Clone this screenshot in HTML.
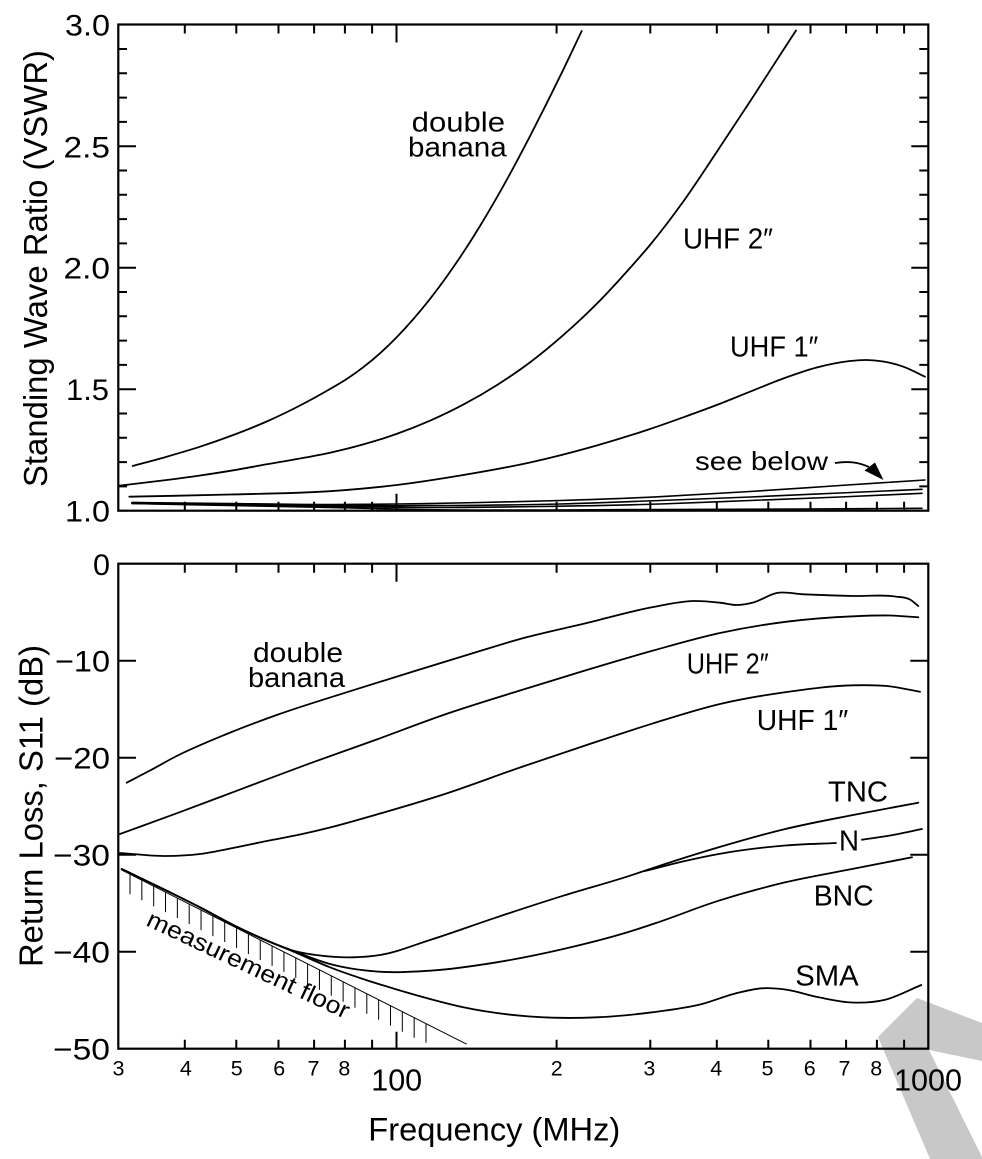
<!DOCTYPE html>
<html>
<head>
<meta charset="utf-8">
<style>
  html,body{margin:0;padding:0;background:#fff;}
  svg{display:block;}
  text{font-family:"Liberation Sans", Arial, sans-serif; fill:#000;}
</style>
</head>
<body>
<svg id="chart" width="982" height="1159" viewBox="0 0 982 1159" xmlns="http://www.w3.org/2000/svg">
  <rect x="0" y="0" width="982" height="1159" fill="#fff"/>

  <!-- gray decorative chevron -->
  <polygon points="878,1037 917,998 982,1023 982,1061 929,1050 982,1157 982,1159 930,1159" fill="#c8c8c8"/>

  <!-- ============ TOP PLOT ============ -->
  <rect x="118.3" y="24.5" width="810" height="486.2" fill="none" stroke="#000" stroke-width="2.2"/>

  <path stroke="#000" stroke-width="2" fill="none" d="
    M118,146.2h18 M118,267.7h18 M118,389.2h18
    M118,486.4h9 M118,462.1h9 M118,437.8h9 M118,413.5h9 M118,364.9h9 M118,340.6h9 M118,316.3h9 M118,292h9
    M118,243.4h9 M118,219.1h9 M118,194.8h9 M118,170.5h9 M118,121.9h9 M118,97.6h9 M118,73.3h9 M118,49h9
    M928.3,146.2h-17 M928.3,267.7h-17 M928.3,389.2h-17
    M928.3,486.4h-9 M928.3,462.1h-9 M928.3,437.8h-9 M928.3,413.5h-9 M928.3,364.9h-9 M928.3,340.6h-9 M928.3,316.3h-9 M928.3,292h-9
    M928.3,243.4h-9 M928.3,219.1h-9 M928.3,194.8h-9 M928.3,170.5h-9 M928.3,121.9h-9 M928.3,97.6h-9 M928.3,73.3h-9 M928.3,49h-9
  "/>
  <path stroke="#000" stroke-width="2" fill="none" d="
    M184.8,24.5v9 M236.3,24.5v9 M278.5,24.5v9 M314.1,24.5v9 M344.9,24.5v9 M372.1,24.5v9 M396.5,24.5v18
    M556.6,24.5v9 M650.3,24.5v9 M716.8,24.5v9 M768.3,24.5v9 M810.5,24.5v9 M846.1,24.5v9 M876.9,24.5v9 M904.1,24.5v9
    M184.8,510.7v-9 M236.3,510.7v-9 M278.5,510.7v-9 M314.1,510.7v-9 M344.9,510.7v-9 M372.1,510.7v-9 M396.5,510.7v-17
    M556.6,510.7v-9 M650.3,510.7v-9 M716.8,510.7v-9 M768.3,510.7v-9 M810.5,510.7v-9 M846.1,510.7v-9 M876.9,510.7v-9 M904.1,510.7v-9
  "/>

  <g fill="none" stroke="#000" stroke-width="1.8" stroke-linejoin="round" stroke-linecap="round">
    <polyline class="s" points="132.7,466 166.7,456.7 200,446.7 233.3,435 266.7,421.5 300,405.5 330,389 346.7,379 363.3,367.2 380,353.3 396.7,337.2 413.3,319.1 430,298.9 446.7,276.6 463.3,252.4 480,226 496.7,197.7 513.3,167.8 530,136.2 546.7,103.3 563.3,69.7 581.7,31"/>
    <polyline class="s" points="119.5,485.7 166.7,480 200,475.5 233.3,470.3 266.7,464.3 300,458.5 330,452.7 363.3,444.4 396.7,433.9 430,420.7 463.3,404.6 496.7,385.2 530,362.4 563.3,335.1 600,300.5 630,268 650,245 683.3,201.5 716.7,152 750,101.5 783.3,50 796,30.5"/>
    <polyline class="s" points="129.3,496.7 230,494.5 330,491.2 396.7,485 463.3,475 530,462.5 596.7,445.5 650,429 683.3,417.3 716.7,405 750,391.7 783.3,378.5 816.7,367.5 850,361 866.7,360 883.3,361.5 903.3,366.7 925,376.7"/>
  </g>
  <g fill="none" stroke="#000" stroke-width="1.6" stroke-linejoin="round" stroke-linecap="round">
    <polyline class="s" points="132,502.5 230,503.5 330,504.5 397,504 480,502.5 560,500.5 660,496.7 750,491.5 840,485.5 925,480"/>
    <polyline class="s" points="132,502.5 330,505.5 450,505.5 560,504 660,500.5 750,497 840,493 922,489.3"/>
    <polyline class="s" points="132,503.5 330,506.5 420,507.5 540,506.5 660,504 750,500.5 840,497 922,493.3"/>
    <polyline class="s" points="132,503.5 330,507.5 420,509.5 660,509.5 800,509 922,508.3"/>
  </g>
  <path d="M835,463 C848,461 858,462 869,467" fill="none" stroke="#000" stroke-width="1.8"/>
  <polygon points="883.5,480 864.5,470.5 875,462.5" fill="#000"/>

  <text x="411.7" y="131.7" font-size="28" textLength="93.3" lengthAdjust="spacingAndGlyphs">double</text>
  <text x="408" y="156.7" font-size="28" textLength="98.7" lengthAdjust="spacingAndGlyphs">banana</text>
  <text x="683" y="248.3" font-size="29" textLength="90" lengthAdjust="spacingAndGlyphs">UHF 2″</text>
  <text x="730" y="356.7" font-size="29" textLength="88.3" lengthAdjust="spacingAndGlyphs">UHF 1″</text>
  <text x="695" y="470" font-size="26" textLength="133" lengthAdjust="spacingAndGlyphs">see below</text>

  <g font-size="30">
    <text x="65" y="35.5" textLength="45" lengthAdjust="spacingAndGlyphs">3.0</text>
    <text x="63.5" y="157.5" textLength="46.5" lengthAdjust="spacingAndGlyphs">2.5</text>
    <text x="63.5" y="278.5" textLength="46.5" lengthAdjust="spacingAndGlyphs">2.0</text>
    <text x="66" y="400" textLength="43" lengthAdjust="spacingAndGlyphs">1.5</text>
    <text x="65" y="521.5" textLength="45" lengthAdjust="spacingAndGlyphs">1.0</text>
  </g>

  <text transform="translate(47,487) rotate(-90)" x="0" y="0" font-size="33" textLength="437" lengthAdjust="spacingAndGlyphs">Standing Wave Ratio (VSWR)</text>

  <!-- ============ BOTTOM PLOT ============ -->
  <rect x="118.3" y="563.7" width="810" height="485" fill="none" stroke="#000" stroke-width="2.2"/>
  <path stroke="#000" stroke-width="2" fill="none" d="
    M118,660.7h18 M118,757.7h18 M118,854.7h18 M118,951.7h18
    M928.3,660.7h-18 M928.3,757.7h-18 M928.3,854.7h-18 M928.3,951.7h-18
    M184.8,563.7v9 M236.3,563.7v9 M278.5,563.7v9 M314.1,563.7v9 M344.9,563.7v9 M372.1,563.7v9 M396.5,563.7v18
    M556.6,563.7v9 M650.3,563.7v9 M716.8,563.7v9 M768.3,563.7v9 M810.5,563.7v9 M846.1,563.7v9 M876.9,563.7v9 M904.1,563.7v9
    M184.8,1048.7v-9 M236.3,1048.7v-9 M278.5,1048.7v-9 M314.1,1048.7v-9 M344.9,1048.7v-9 M372.1,1048.7v-9 M396.5,1048.7v-17
    M556.6,1048.7v-9 M650.3,1048.7v-9 M716.8,1048.7v-9 M768.3,1048.7v-9 M810.5,1048.7v-9 M846.1,1048.7v-9 M876.9,1048.7v-9 M904.1,1048.7v-9
  "/>

  <line x1="121.7" y1="870" x2="466.7" y2="1044.2" stroke="#000" stroke-width="1"/>
  <path stroke="#000" stroke-width="1" fill="none" d="
    M130,874.2v20 M141.84,880.2v20 M153.68,886.2v20 M165.52,892.1v20 M177.36,898.1v20 M189.2,904.1v20
    M201.04,910.1v20 M212.88,916.1v20 M224.72,922v20 M236.56,928v20 M248.4,934v20 M260.24,940v20
    M272.08,945.9v20 M283.92,951.9v20 M295.76,957.9v20 M307.6,963.9v20 M319.44,969.9v20 M331.28,975.8v20
    M343.12,981.8v20 M354.96,987.8v20 M366.8,993.8v20 M378.64,999.8v20 M390.48,1005.7v20 M402.32,1011.7v20
    M414.16,1017.7v20 M426,1023.7v19
  "/>

  <g fill="none" stroke="#000" stroke-width="1.8" stroke-linejoin="round" stroke-linecap="round">
    <polyline class="s" points="126.7,782.7 150,770.5 176.7,756 226.7,734 276.7,715 343.3,693.3 410,672.5 476.7,652 520,639 586.7,623 653.3,607 693.3,601 720,602.7 736.7,605 753.3,602.5 776.7,593 803.3,594.3 853.3,596 895,596.5 910,599.5 918.3,606"/>
    <polyline class="s" points="120,834 176.7,813.3 243.3,788.3 310,763.3 376.7,739.5 443.3,715 520,690.5 586.7,670 653.3,650.5 720,633 786.7,621.7 853.3,616.3 890,615.5 918.3,617.3"/>
    <polyline class="s" points="120,853 166.7,856 200,854 233,848 266.7,841 300,834.5 330,827.5 376.7,814.5 443.3,794.5 520,767.5 586.7,745 653.3,723.3 720,704 786.7,692 853.3,685.3 886.7,686 920,691.7"/>
    <polyline class="s" points="121.7,869 166.7,890.7 200,907.3 233.3,925 266.7,940.5 293.3,950.7 320,955.5 353.3,957.3 380,955 430,940 496.7,917.3 563.3,895.7 630,875.7 650,869 718.7,847.3 785.3,829 853,815 918.3,802.7"/>
    <polyline class="s" points="645,871 685,861 718.7,854 785.3,845.5 836,843"/>
    <polyline class="s" points="862,839.7 890,835.5 922,829"/>
    <polyline class="s" points="121.7,869 166.7,890.7 200,907.3 233.3,925 266.7,940.5 293.3,951 330,964 376.7,971.5 430,970.7 496.7,962.3 563.3,949 630,931.5 656,923 718.7,900.7 785.3,882.3 852,869 912,857.3"/>
    <polyline class="s" points="121.7,869 166.7,890.7 200,907.3 233.3,925 266.7,940.5 293.3,951.5 330,967.3 363,979 396.7,989.5 430,999 463.3,1007.3 530,1016.5 596.7,1017.3 652,1012.3 702,1004 735.3,993.5 762,988.3 785.3,989.5 818.7,997.3 852,1002.5 885.3,999.7 921.3,985"/>
  </g>

  <text x="253" y="662" font-size="28" textLength="90" lengthAdjust="spacingAndGlyphs">double</text>
  <text x="248" y="687" font-size="28" textLength="97" lengthAdjust="spacingAndGlyphs">banana</text>
  <text x="686.7" y="673.3" font-size="29" textLength="82" lengthAdjust="spacingAndGlyphs">UHF 2″</text>
  <text x="756.7" y="730" font-size="29" textLength="91.6" lengthAdjust="spacingAndGlyphs">UHF 1″</text>
  <text x="828" y="801.7" font-size="29" textLength="60" lengthAdjust="spacingAndGlyphs">TNC</text>
  <text x="839" y="850.7" font-size="29" textLength="20" lengthAdjust="spacingAndGlyphs">N</text>
  <text x="813.7" y="905.7" font-size="29" textLength="60" lengthAdjust="spacingAndGlyphs">BNC</text>
  <text x="795.3" y="985.7" font-size="29" textLength="63.4" lengthAdjust="spacingAndGlyphs">SMA</text>
  <text transform="translate(145,925) rotate(25.2)" x="0" y="0" font-size="24" textLength="221" lengthAdjust="spacingAndGlyphs">measurement floor</text>

  <g font-size="30">
    <text x="93" y="575" textLength="17" lengthAdjust="spacingAndGlyphs">0</text>
    <text x="55" y="671.5" textLength="55" lengthAdjust="spacingAndGlyphs">−10</text>
    <text x="54" y="768.5" textLength="56" lengthAdjust="spacingAndGlyphs">−20</text>
    <text x="53" y="865.5" textLength="57" lengthAdjust="spacingAndGlyphs">−30</text>
    <text x="53" y="962.5" textLength="57" lengthAdjust="spacingAndGlyphs">−40</text>
    <text x="53" y="1059.5" textLength="57" lengthAdjust="spacingAndGlyphs">−50</text>
  </g>

  <text transform="translate(42.7,967) rotate(-90)" x="0" y="0" font-size="33" textLength="322" lengthAdjust="spacingAndGlyphs">Return Loss, S11 (dB)</text>

  <g font-size="21.5" text-anchor="middle">
    <text x="118.5" y="1075.7">3</text>
    <text x="185.8" y="1075.7">4</text>
    <text x="236.7" y="1075.7">5</text>
    <text x="279.2" y="1075.7">6</text>
    <text x="313.5" y="1075.7">7</text>
    <text x="344.3" y="1075.7">8</text>
    <text x="556.7" y="1075.7">2</text>
    <text x="649.3" y="1075.7">3</text>
    <text x="716.2" y="1075.7">4</text>
    <text x="767.5" y="1075.7">5</text>
    <text x="809.7" y="1075.7">6</text>
    <text x="844.5" y="1075.7">7</text>
    <text x="876.2" y="1075.7">8</text>
  </g>
  <text x="396.7" y="1090.7" font-size="30.5" text-anchor="middle">100</text>
  <text x="928" y="1090.7" font-size="30.5" text-anchor="middle">1000</text>

  <text x="368.3" y="1140.7" font-size="32" textLength="252" lengthAdjust="spacingAndGlyphs">Frequency (MHz)</text>
</svg>
<script>
(function(){
  var NS='http://www.w3.org/2000/svg';
  var list=document.querySelectorAll('polyline.s');
  for(var k=0;k<list.length;k++){
    var pl=list[k];
    var raw=pl.getAttribute('points').trim().split(/\s+/);
    var X=[],Y=[];
    for(var j=0;j<raw.length;j++){var c=raw[j].split(',');X.push(parseFloat(c[0]));Y.push(parseFloat(c[1]));}
    var n=X.length;
    if(n<3) continue;
    var h=[],s=[];
    for(var i=0;i<n-1;i++){h.push(X[i+1]-X[i]);s.push((Y[i+1]-Y[i])/h[i]);}
    var m=[];
    m.push(s[0]);
    for(var i=1;i<n-1;i++){
      m.push((s[i]*h[i-1]+s[i-1]*h[i])/(h[i-1]+h[i]));
    }
    m.push(s[n-2]);
    var d='M'+X[0]+','+Y[0];
    for(var i=0;i<n-1;i++){
      var t=h[i]/3;
      d+=' C'+(X[i]+t).toFixed(2)+','+(Y[i]+m[i]*t).toFixed(2)+' '+(X[i+1]-t).toFixed(2)+','+(Y[i+1]-m[i+1]*t).toFixed(2)+' '+X[i+1]+','+Y[i+1];
    }
    var path=document.createElementNS(NS,'path');
    path.setAttribute('d',d);
    pl.parentNode.replaceChild(path,pl);
  }
})();
</script>
</body>
</html>
